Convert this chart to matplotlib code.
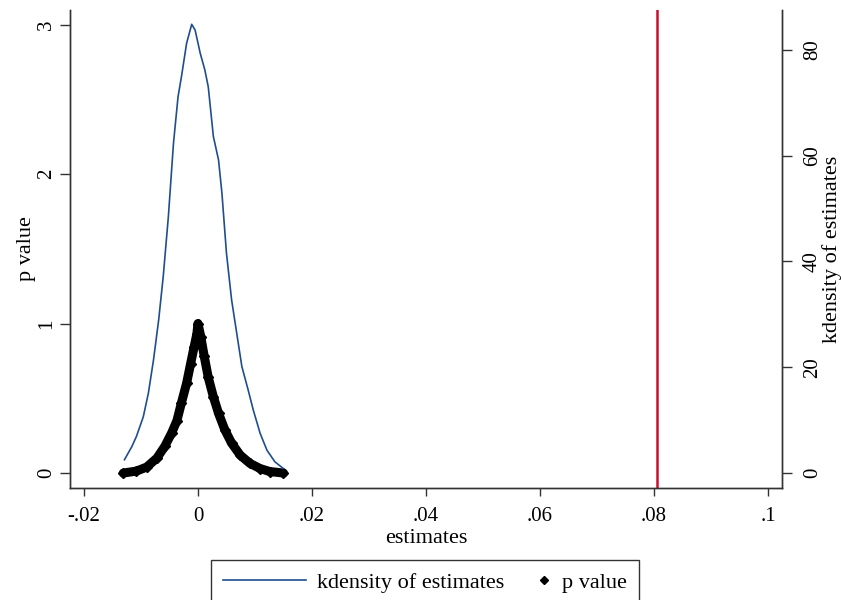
import matplotlib
matplotlib.use("Agg")
import matplotlib.pyplot as plt
from matplotlib.legend_handler import HandlerLine2DCompound

plt.rcParams['font.family'] = ['Liberation Serif', 'DejaVu Serif']

# kernel density of the estimates (right axis)
kd_x = [-0.0129, -0.0116, -0.0108, -0.0096, -0.0087, -0.0078, -0.0069, -0.0061,
        -0.0052, -0.0043, -0.0035, -0.0029, -0.0020, -0.0011, -0.0005, 0.0004,
        0.0012, 0.0018, 0.0027, 0.0036, 0.0042, 0.0050, 0.0059, 0.0068,
        0.0077, 0.0088, 0.0097, 0.0109, 0.0121, 0.0135, 0.0149]
kd_y = [2.5, 5.0, 6.9, 10.6, 15.1, 21.4, 28.9, 37.1,
        48.4, 62.3, 71.1, 74.9, 81.2, 84.8, 83.7, 79.3,
        76.2, 73.0, 63.6, 59.2, 52.9, 41.5, 32.7, 26.4,
        20.1, 15.7, 11.9, 7.5, 4.3, 2.1, 0.9]

# p values (left axis)
p_x = [-0.0131, -0.0108, -0.0090, -0.0072, -0.0058, -0.0046, -0.0037, -0.0029,
       -0.0020, -0.0013, -0.0007, -0.0002, 0.0000, 0.0005, 0.0011, 0.0018,
       0.0027, 0.0036, 0.0047, 0.0059, 0.0074, 0.0091, 0.0109, 0.0126, 0.0150]
p_y = [0.0, 0.013, 0.04, 0.10, 0.18, 0.27, 0.35, 0.47,
       0.60, 0.73, 0.84, 0.93, 1.0, 0.91, 0.78, 0.64,
       0.51, 0.40, 0.29, 0.20, 0.12, 0.065, 0.03, 0.01, 0.0]

true_estimate = 0.0806

x_ticks = [-0.02, 0, 0.02, 0.04, 0.06, 0.08, 0.1]
x_labels = ['-.02', '0', '.02', '.04', '.06', '.08', '.1']
p_ticks = [0, 1, 2, 3]
kd_ticks = [0, 20, 40, 60, 80]

blue = '#1f4e8c'
red = '#c8102e'
fs = 15

fig = plt.figure(figsize=(8.41, 6), dpi=100)
ax = fig.add_axes([0.0832, 0.1867, 0.8466, 0.7966])
ax2 = ax.twinx()

kd_line, = ax2.plot(kd_x, kd_y, color=blue, lw=1.2, label='kdensity of estimates')
ax.plot(p_x, p_y, color='black', lw=6.5, solid_capstyle='round', solid_joinstyle='round')
p_marks, = ax.plot(p_x, p_y, ls='none', marker='D', ms=5.5, color='black', label='p value')
ax.axvline(true_estimate, color=red, lw=1.8)

ax.set_xlim(-0.02246, 0.10246)
ax.set_ylim(-0.1, 3.097)
ax2.set_ylim(-2.84, 87.5)

ax.set_xticks(x_ticks)
ax.set_xticklabels(x_labels)
ax.set_yticks(p_ticks)
ax2.set_yticks(kd_ticks)

for a in (ax, ax2):
    a.spines['top'].set_visible(False)
    for s in a.spines.values():
        s.set_linewidth(1.0)
        s.set_color('#333333')
ax.tick_params(axis='x', length=6, width=1, pad=8, labelsize=fs, color='#333333')
ax.tick_params(axis='y', length=7, width=1, pad=3, labelsize=fs, labelrotation=90, color='#333333')
ax2.tick_params(axis='y', length=7, width=1, pad=8, labelsize=fs, labelrotation=90, color='#333333')
for lab in ax.get_yticklabels():
    lab.set_va('center')
for lab in ax2.get_yticklabels():
    lab.set_va('center')

ax.set_xlabel('estimates', fontsize=fs + 1)
ax.xaxis.set_label_coords(0.501, -0.085)
ax.set_ylabel('p value', fontsize=fs + 1)
ax.yaxis.set_label_coords(-0.048, 0.5)
ax2.set_ylabel('kdensity of estimates', fontsize=fs + 1)
ax2.yaxis.set_label_coords(1.056, 0.5)


class RightMarker(HandlerLine2DCompound):
    # diamond sits at the right end of the handle box, next to its text
    def get_xdata(self, legend, xdescent, ydescent, width, height, fontsize):
        return [-xdescent, -xdescent + width], [-xdescent + width - 0.3 * fontsize]


def small_marker(handle, orig):
    handle.update_from(orig)
    handle.set_markersize(4.5)


leg = fig.legend([kd_line, p_marks], ['kdensity of estimates', 'p value'],
                 loc='upper center', bbox_to_anchor=(0.5054, 0.0667), ncol=2,
                 fontsize=fs + 1, handlelength=3.7, handletextpad=0.5,
                 columnspacing=-1.6, borderpad=0.55, borderaxespad=0, fancybox=False,
                 edgecolor='#333333', framealpha=1,
                 handler_map={p_marks: RightMarker(numpoints=1, update_func=small_marker)})
leg.get_frame().set_linewidth(1.0)

plt.savefig('out.png', dpi=100)
